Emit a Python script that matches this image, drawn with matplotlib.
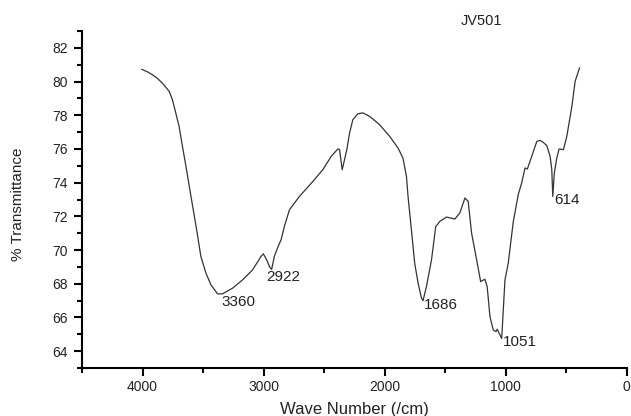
import numpy as np
import matplotlib.pyplot as plt
from matplotlib.ticker import MultipleLocator

# IR spectrum of JV501
wavenumber = [4005, 3960, 3919, 3876, 3836, 3780, 3753, 3725, 3698, 3670,
              3642, 3621, 3600, 3574, 3546, 3518, 3476, 3435, 3380,
              3339, 3256, 3173, 3090, 3021, 3002, 2974, 2950, 2933, 2911,
              2880, 2855, 2828, 2786, 2704, 2593, 2510, 2441, 2386, 2372,
              2350, 2331, 2312, 2289, 2262, 2220, 2179, 2124, 2041, 1958,
              1889, 1848, 1819, 1806, 1778, 1751, 1723, 1695, 1682, 1654,
              1612, 1577, 1558, 1544, 1488, 1419, 1378, 1336, 1309, 1281,
              1239, 1206, 1171, 1152, 1129, 1102, 1080, 1069, 1046, 1032,
              1005, 978, 936, 895, 867, 839, 820, 784, 742, 715,
              688, 659, 632, 618, 610, 597, 577, 558, 522, 494,
              452, 425, 389]
transmittance = [80.72, 80.58, 80.41, 80.18, 79.91, 79.42, 78.93, 78.13, 77.34, 76.15,
                 75.00, 74.10, 73.20, 72.10, 70.90, 69.62, 68.63, 67.94, 67.40,
                 67.40, 67.74, 68.23, 68.83, 69.62, 69.78, 69.42, 69.00, 68.85, 69.62,
                 70.20, 70.61, 71.40, 72.39, 73.18, 74.07, 74.77, 75.56, 76.00, 75.96,
                 74.77, 75.36, 75.96, 76.95, 77.74, 78.09, 78.14, 77.94, 77.44, 76.75,
                 76.06, 75.46, 74.37, 73.18, 71.20, 69.22, 68.04, 67.15, 67.00, 67.83,
                 69.42, 71.40, 71.56, 71.70, 71.96, 71.84, 72.20, 73.09, 72.89, 71.01,
                 69.42, 68.13, 68.27, 67.83, 66.05, 65.26, 65.16, 65.30, 64.96, 64.75,
                 68.23, 69.22, 71.70, 73.30, 73.98, 74.87, 74.81, 75.56, 76.45, 76.51,
                 76.39, 76.19, 75.56, 74.77, 73.18, 74.57, 75.46, 76.00, 75.96, 76.75,
                 78.53, 80.02, 80.81]

# peak labels: text, x (left edge), y (centre)
peak_labels = ['3360', '2922', '1686', '1051', '614']
peak_x = [3350, 2979, 1674, 1024, 597]
peak_y = [66.93, 68.41, 66.72, 64.52, 72.96]

plt.rcParams['font.family'] = ['Liberation Sans', 'DejaVu Sans']
ink = '#222222'

fig = plt.figure(figsize=(6.31, 4.16), dpi=100)
ax = fig.add_axes([0.130, 0.1154, 0.863, 0.810])

ax.plot(wavenumber, transmittance, color='#333333', linewidth=0.9,
        solid_joinstyle='round')

for lab, x, y in zip(peak_labels, peak_x, peak_y):
    ax.text(x, y, lab, ha='left', va='center', fontsize=11, color=ink)

ax.set_xlim(4500, 0)
ax.set_ylim(63, 83)
ax.xaxis.set_major_locator(MultipleLocator(1000))
ax.xaxis.set_minor_locator(MultipleLocator(500))
ax.yaxis.set_major_locator(MultipleLocator(2))
ax.yaxis.set_minor_locator(MultipleLocator(1))
ax.set_yticks(np.arange(64, 83, 2))

for s in ['top', 'right']:
    ax.spines[s].set_visible(False)
for s in ['left', 'bottom']:
    ax.spines[s].set_linewidth(1.5)
    ax.spines[s].set_color('black')

ax.tick_params(which='major', direction='out', length=6, width=1.5, labelsize=10, labelcolor=ink)
ax.tick_params(which='minor', direction='out', length=3.5, width=1.5)
ax.tick_params(axis='y', which='major', pad=4)
ax.tick_params(axis='x', which='major', pad=3)

ax.set_xlabel('Wave Number (/cm)', fontsize=12, color=ink)
ax.xaxis.set_label_coords(0.50, -0.10)
ax.set_ylabel('% Transmittance', fontsize=11, color=ink)
ax.yaxis.set_label_coords(-0.105, 0.487)

fig.text(482 / 631, 1 - 21 / 416, 'JV501', ha='center', va='center', fontsize=10.5, color=ink)

fig.savefig('out.png', dpi=100)
